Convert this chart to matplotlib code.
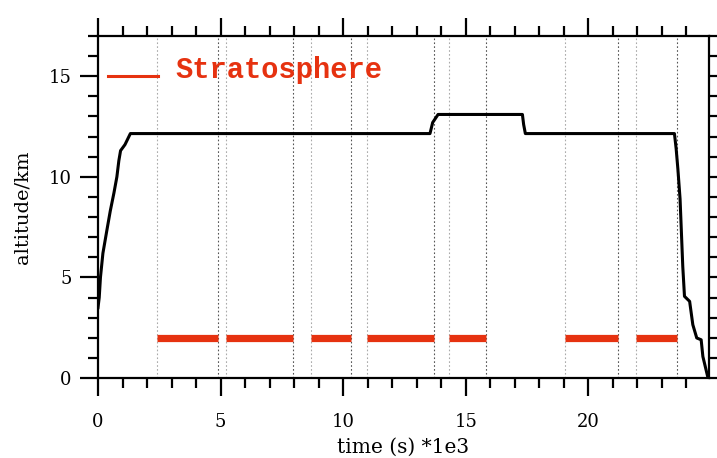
import numpy as np
import matplotlib
matplotlib.use('Agg')
import matplotlib.pyplot as plt
from matplotlib.ticker import MultipleLocator

# flight altitude track (time in 1e3 s, altitude in km)
alt_time = [0.0, 0.05, 0.1, 0.2, 0.37, 0.5, 0.65, 0.77, 0.85, 0.92, 1.1, 1.32,
            13.54, 13.65, 13.87, 17.31, 17.36, 17.43, 23.51, 23.58, 23.65,
            23.74, 23.79, 23.85, 23.92, 24.13, 24.26, 24.42, 24.6, 24.67, 24.87]
alt_km = [3.5, 4.0, 5.0, 6.2, 7.4, 8.3, 9.2, 10.0, 10.8, 11.3, 11.6, 12.15,
          12.15, 12.7, 13.1, 13.1, 12.6, 12.15, 12.15, 11.4, 10.4,
          8.9, 7.38, 5.55, 4.06, 3.81, 2.65, 1.99, 1.9, 1.07, 0.05]

# stratosphere segments (start, end) in 1e3 s
strat_start = [2.40, 5.23, 8.68, 10.96, 14.32, 19.03, 21.94]
strat_end = [4.91, 7.94, 10.30, 13.70, 15.82, 21.19, 23.61]
strat_alt = 2.0

red = '#e63210'

plt.rcParams['font.family'] = ['DejaVu Serif']

fig = plt.figure(figsize=(7.17, 4.58), dpi=100)
ax = fig.add_axes([98 / 717, 80 / 458, 611 / 717, 342 / 458])

for s, e in zip(strat_start, strat_end):
    ax.axvline(s, color='#aaaaaa', lw=0.8, ls=(0, (1.5, 2)), zorder=1)
    ax.axvline(e, color='#555555', lw=0.8, ls=(0, (1.5, 2)), zorder=1)
    ax.plot([s, e], [strat_alt, strat_alt], color=red, lw=5.2,
            solid_capstyle='butt', zorder=3)

ax.plot(alt_time, alt_km, color='black', lw=2.2, zorder=4)

# legend drawn by hand like the original
ax.plot([0.42, 2.45], [15.0, 15.0], color=red, lw=2.2)
ax.text(3.15, 14.9, 'Stratosphere', color=red, fontsize=20.7,
        family=['Liberation Mono', 'DejaVu Sans Mono'], fontweight='bold',
        va='baseline', ha='left')

ax.set_xlim(0, 24.92)
ax.set_ylim(0, 17)
ax.xaxis.set_major_locator(MultipleLocator(5))
ax.xaxis.set_minor_locator(MultipleLocator(1))
ax.yaxis.set_major_locator(MultipleLocator(5))
ax.yaxis.set_minor_locator(MultipleLocator(1))

ax.tick_params(which='both', direction='out', top=True, right=True,
               width=1.6, colors='black', labelsize=13)
ax.tick_params(which='major', length=13)
ax.tick_params(which='minor', length=7)
ax.tick_params(axis='x', which='major', pad=12)
ax.tick_params(axis='y', which='major', pad=6)
for sp in ax.spines.values():
    sp.set_linewidth(1.6)

ax.set_xlabel('time (s) *1e3', fontsize=14.5, labelpad=5)
ax.set_ylabel('altitude/km', fontsize=14, labelpad=12)

fig.savefig('out.png', dpi=100)
